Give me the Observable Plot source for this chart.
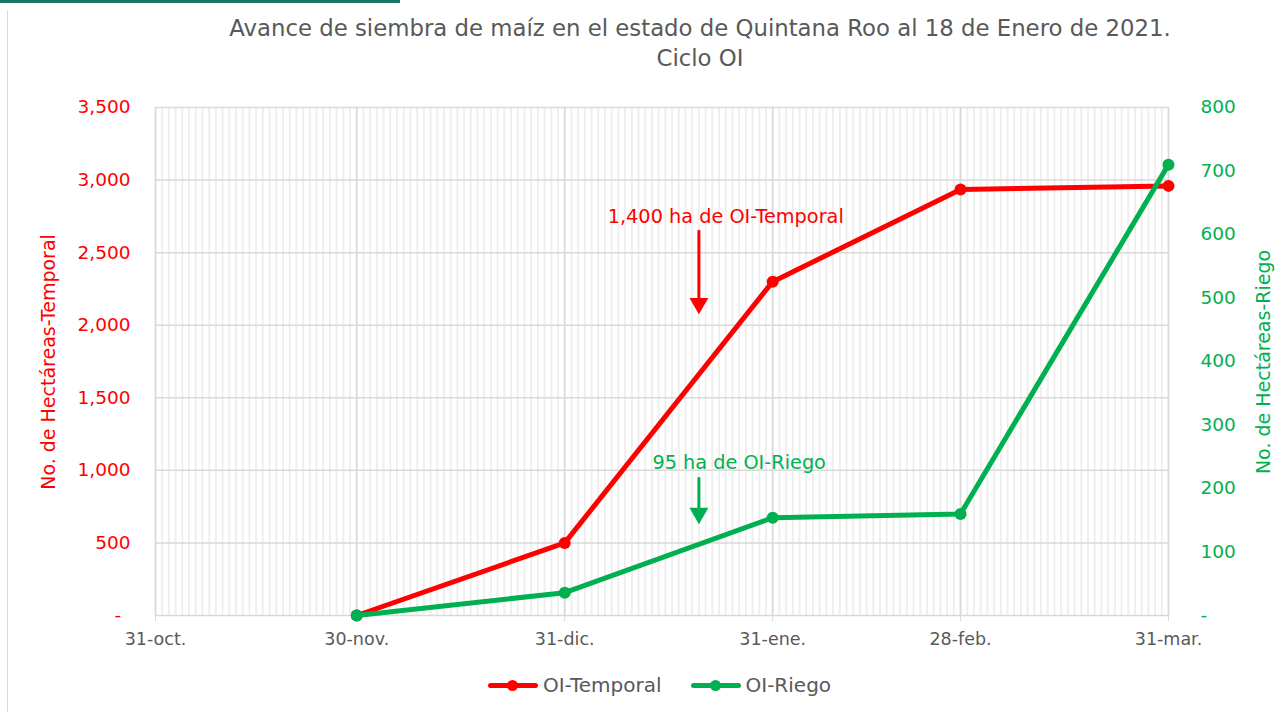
<!DOCTYPE html>
<html><head><meta charset="utf-8">
<script src="https://cdn.jsdelivr.net/npm/d3@7"></script>
<script src="https://cdn.jsdelivr.net/npm/@observablehq/plot@0.6"></script>
<style>
body{margin:0;background:#fff;font-family:"DejaVu Sans",sans-serif;}
#wrap{position:relative;width:1281px;height:712px;overflow:hidden;background:#fff;}
#topbar{position:absolute;left:0;top:0;width:400px;height:3px;background:#1b7468;}
#leftline{position:absolute;left:7px;top:10px;width:1px;height:702px;background:#d9d9d9;}
#title{position:absolute;left:0;top:13px;width:1400px;text-align:center;color:#595959;font-size:22.8px;line-height:30px;}
#chart{position:absolute;left:0;top:0;}
.ylab{position:absolute;font-size:19px;white-space:nowrap;transform-origin:center center;}
#legend{position:absolute;top:673px;left:0;width:1281px;display:flex;justify-content:center;gap:29px;color:#595959;font-size:20px;margin-left:19px;}
.item{display:flex;align-items:center;gap:5px;}
.sym{position:relative;width:50px;height:24px;}
.sym .ln{position:absolute;left:0;top:10px;width:50px;height:5px;border-radius:3px;}
.sym .dt{position:absolute;left:19px;top:7px;width:11px;height:11px;border-radius:50%;}
</style></head><body>
<div id="wrap">
  <div id="topbar"></div>
  <div id="leftline"></div>
  <div id="chart"></div>
  <div id="title">Avance de siembra de maíz en el estado de Quintana Roo al 18 de Enero de 2021.<br>Ciclo OI</div>
  <div class="ylab" id="ylabL" style="color:#ff0000">No. de Hectáreas-Temporal</div>
  <div class="ylab" id="ylabR" style="color:#00b050">No. de Hectáreas-Riego</div>
  <div id="legend">
    <div class="item"><div class="sym"><div class="ln" style="background:#ff0000"></div><div class="dt" style="background:#ff0000"></div></div><span>OI-Temporal</span></div>
    <div class="item"><div class="sym"><div class="ln" style="background:#00b050"></div><div class="dt" style="background:#00b050"></div></div><span>OI-Riego</span></div>
  </div>
</div>
<script>
// ---- data ----
const fechas = ["2020-11-30", "2020-12-31", "2021-01-31", "2021-02-28", "2021-03-31"];
const temporal = [0, 500, 2300, 2935, 2960];
const riego = [0, 36, 154, 160, 710];
const tickFechas = ["2020-10-31", "2020-11-30", "2020-12-31", "2021-01-31", "2021-02-28", "2021-03-31"];
const tickEtiquetas = ["31-oct.", "30-nov.", "31-dic.", "31-ene.", "28-feb.", "31-mar."];
const ticksTemporal = [0, 500, 1000, 1500, 2000, 2500, 3000, 3500];
const ticksRiego = [0, 100, 200, 300, 400, 500, 600, 700, 800];
const notaTemporal = {texto: "1,400 ha de OI-Temporal", fecha: "2021-01-24", y: 2750, flechaFecha: "2021-01-20", desde: 2652, hasta: 2150};
const notaRiego = {texto: "95 ha de OI-Riego", fecha: "2021-01-26", y: 241, flechaFecha: "2021-01-20", desde: 217, hasta: 161};

const ROJO = "#ff0000", VERDE = "#00b050", GRIS = "#595959", GRID = "#d9d9d9";
const k = 3500 / 800; // right axis -> left axis
const P = s => new Date(s + "T00:00:00Z");

const filas = fechas.map((f, i) => ({fecha: P(f), temporal: temporal[i], riego: riego[i] * k}));
const tickDates = tickFechas.map(P);
const dias = d3.utcDay.range(tickDates[0], d3.utcDay.offset(tickDates[tickDates.length - 1], 1));

const chart = Plot.plot({
  width: 1281, height: 712,
  marginLeft: 155, marginRight: 113, marginTop: 107, marginBottom: 97,
  style: {fontFamily: "'DejaVu Sans', sans-serif", background: "transparent"},
  x: {type: "utc", domain: [tickDates[0], tickDates[tickDates.length - 1]]},
  y: {domain: [0, 3500]},
  marks: [
    Plot.ruleX(dias, {x: d => d, stroke: "#efefef", strokeWidth: 2}),
    Plot.ruleY(ticksTemporal, {y: d => d, stroke: GRID, strokeWidth: 1.5}),
    Plot.ruleX(tickDates, {x: d => d, stroke: GRID, strokeWidth: 1.5}),
    Plot.axisX({ticks: tickDates, tickFormat: d => tickEtiquetas[tickDates.findIndex(t => +t === +d)],
      tickSize: 6, stroke: GRID, fill: GRIS, fontSize: 17.5, tickPadding: 11, label: null}),
    Plot.axisY({anchor: "left", ticks: ticksTemporal, tickFormat: d => d === 0 ? "-\u2002" : d3.format(",")(d),
      tickSize: 0, tickPadding: 25, fill: ROJO, fontSize: 18.5, label: null}),
    Plot.axisY(ticksRiego.map(v => v * k), {anchor: "right", tickFormat: v => { const r = Math.round(v / k); return r === 0 ? "-" : String(r); },
      tickSize: 0, tickPadding: 32, fill: VERDE, fontSize: 18.5, label: null}),
    // annotations
    Plot.text([notaTemporal], {x: d => P(d.fecha), y: "y", text: "texto", fill: ROJO, fontSize: 19.3}),
    Plot.ruleX([notaTemporal], {x: d => P(d.flechaFecha), y1: "desde", y2: "hasta", stroke: ROJO, strokeWidth: 3}),
    Plot.dot([notaTemporal], {x: d => P(d.flechaFecha), y: "hasta", symbol: "triangle", rotate: 180, r: 7, fill: ROJO}),
    Plot.text([notaRiego], {x: d => P(d.fecha), y: d => d.y * k, text: "texto", fill: VERDE, fontSize: 19.3}),
    Plot.ruleX([notaRiego], {x: d => P(d.flechaFecha), y1: d => d.desde * k, y2: d => d.hasta * k, stroke: VERDE, strokeWidth: 3}),
    Plot.dot([notaRiego], {x: d => P(d.flechaFecha), y: d => d.hasta * k, symbol: "triangle", rotate: 180, r: 7, fill: VERDE}),
    // series
    Plot.line(filas, {x: "fecha", y: "temporal", stroke: ROJO, strokeWidth: 5}),
    Plot.dot(filas, {x: "fecha", y: "temporal", r: 6, fill: ROJO}),
    Plot.line(filas, {x: "fecha", y: "riego", stroke: VERDE, strokeWidth: 5}),
    Plot.dot(filas, {x: "fecha", y: "riego", r: 6, fill: VERDE})
  ]
});
document.getElementById("chart").appendChild(chart);

// rotate axis labels
function place(id, cx, cy, deg) {
  const el = document.getElementById(id);
  const w = el.offsetWidth, h = el.offsetHeight;
  el.style.left = (cx - w / 2) + "px";
  el.style.top = (cy - h / 2) + "px";
  el.style.transform = `rotate(${deg}deg)`;
}
place("ylabL", 48, 362, -90);
place("ylabR", 1263, 362, -90);
</script>
</body></html>
